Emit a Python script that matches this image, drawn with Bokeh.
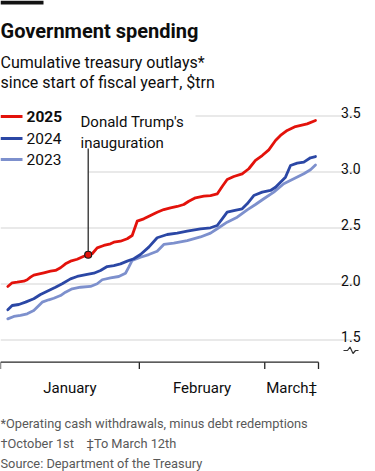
from bokeh.plotting import figure
from bokeh.models import Range1d
from bokeh.core.properties import value
from bokeh.embed import file_html
from bokeh.resources import INLINE
import numpy as np

# ---------------- data ----------------
# x = days since 1 January; y = cumulative outlays, $trn
days_2025 = [1.63, 2.61, 3.73, 5.20, 5.96, 6.70, 7.43, 9.67, 11.16, 12.28, 13.40, 14.51,
             15.63, 17.12, 18.60, 19.58, 20.47, 21.59, 23.06, 24.56, 25.30, 26.79, 28.29,
             29.40, 30.52, 31.99, 33.49, 34.98, 36.46, 37.95, 39.45, 40.92, 42.04, 43.54,
             45.39, 46.89, 48.38, 49.50, 50.61, 52.09, 53.96, 55.44, 56.93, 58.43, 59.90,
             61.40, 62.51, 64.01, 65.86, 68.47, 70.33]
vals_2025 = [1.978, 2.011, 2.016, 2.025, 2.038, 2.061, 2.079, 2.100, 2.114, 2.121, 2.145, 2.180,
             2.204, 2.221, 2.248, 2.261, 2.270, 2.323, 2.344, 2.359, 2.373, 2.382, 2.404,
             2.433, 2.561, 2.582, 2.612, 2.641, 2.665, 2.680, 2.692, 2.710, 2.739, 2.770,
             2.784, 2.790, 2.804, 2.871, 2.933, 2.960, 2.984, 3.029, 3.103, 3.147, 3.198,
             3.281, 3.326, 3.371, 3.406, 3.430, 3.460]

days_2024 = [1.63, 2.61, 4.09, 5.58, 7.43, 8.93, 10.43, 12.28, 13.78, 15.63, 17.12, 19.36,
             20.83, 22.33, 23.82, 25.30, 26.79, 28.29, 29.76, 31.26, 33.11, 34.98, 37.22,
             39.45, 41.68, 44.65, 46.89, 48.38, 49.50, 50.61, 52.09, 53.96, 55.08, 56.55,
             58.43, 60.28, 61.40, 62.51, 63.63, 64.75, 66.24, 67.72, 69.21, 70.33]
vals_2024 = [1.770, 1.808, 1.817, 1.838, 1.868, 1.906, 1.936, 1.971, 2.002, 2.046, 2.067, 2.085,
             2.096, 2.121, 2.156, 2.165, 2.180, 2.204, 2.225, 2.263, 2.329, 2.413, 2.442,
             2.454, 2.471, 2.493, 2.502, 2.522, 2.582, 2.641, 2.656, 2.671, 2.716, 2.790,
             2.820, 2.835, 2.864, 2.909, 2.954, 3.058, 3.079, 3.088, 3.127, 3.138]

days_2023 = [1.63, 2.97, 4.47, 5.96, 7.43, 9.31, 10.78, 11.90, 13.40, 14.51, 16.01, 17.86,
             20.09, 21.59, 22.71, 24.56, 26.41, 27.91, 28.64, 29.40, 31.26, 33.11, 34.98,
             36.46, 38.69, 41.68, 44.65, 46.89, 48.38, 50.61, 52.85, 55.08, 56.93, 58.79,
             61.02, 63.25, 65.48, 67.72, 69.21, 70.33]
vals_2023 = [1.689, 1.710, 1.719, 1.734, 1.763, 1.838, 1.859, 1.873, 1.897, 1.927, 1.957, 1.971,
             1.978, 2.002, 2.038, 2.055, 2.067, 2.096, 2.150, 2.210, 2.239, 2.263, 2.293,
             2.353, 2.364, 2.388, 2.420, 2.454, 2.493, 2.552, 2.596, 2.662, 2.710, 2.761,
             2.820, 2.895, 2.939, 2.984, 3.020, 3.062]

inauguration_day = 19.58

y_ticks = [1.5, 2.0, 2.5, 3.0, 3.5]
y_tick_labels = ["1.5", "2.0", "2.5", "3.0", "3.5"]
month_bounds = [0, 31, 59, 71]
month_names = ["January", "February", "March\u2021"]

series_names = ["2025", "2024", "2023"]
series_colors = ["#E3120B", "#2B47A5", "#7D90CD"]

# ---------------- layout helpers (pixel -> data) ----------------
W, H = 375, 471
DAY_PX = 318 / 71.0          # pixels per day
VAL_PX = 112.0               # pixels per $1trn
Y35_PX = 115.5               # pixel row of 3.5 gridline


def X(px):
    return px / DAY_PX


def Y(py):
    return 3.5 - (py - Y35_PX) / VAL_PX


p = figure(width=W, height=H, output_backend="svg", toolbar_location=None,
           x_axis_type=None, y_axis_type=None,
           x_range=Range1d(X(0), X(W)), y_range=Range1d(Y(H), Y(0)),
           min_border=0, outline_line_color=None,
           background_fill_color="white", border_fill_color="white")
p.xgrid.visible = False
p.ygrid.visible = False

FONT = value("Roboto")
TXT = "#0d0d0d"
GREY = "#595959"

# gridlines (left ends cleared where legend / annotation sit)
grid_start_px = {1.5: 0, 2.0: 0, 2.5: 0, 3.0: 88, 3.5: 195}
p.segment(x0=[X(grid_start_px[t]) for t in y_ticks], x1=[X(360)] * len(y_ticks),
          y0=y_ticks, y1=y_ticks, line_color="#d3d3d3", line_width=1)
p.text(x=[X(360)] * len(y_ticks), y=y_ticks, text=y_tick_labels, text_align="right",
       text_baseline="alphabetic", y_offset=-4, text_font=FONT,
       text_font_size="14px", text_color=TXT)

# axis break symbol
p.line(x=[X(343), X(347), X(349.5), X(352.5), X(355), X(358)],
       y=[Y(350), Y(350), Y(346.5), Y(353), Y(350), Y(350)],
       line_color="#333333", line_width=1.2)

# x axis
p.segment(x0=[month_bounds[0]], x1=[month_bounds[-1]], y0=[Y(361.7)], y1=[Y(361.7)],
          line_color="#262626", line_width=1.3)
p.segment(x0=month_bounds, x1=month_bounds, y0=[Y(361.7)] * 4, y1=[Y(368.5)] * 4,
          line_color="#262626", line_width=1.3)
mids = [(a + b) / 2 for a, b in zip(month_bounds[:-1], month_bounds[1:])]
p.text(x=mids, y=[Y(387.7)] * 3, text=month_names, text_align="center",
       text_baseline="alphabetic", text_font=FONT, text_font_size="15px", text_color=TXT)

# series (oldest first so 2025 sits on top)
for d, v, c in [(days_2023, vals_2023, series_colors[2]),
                (days_2024, vals_2024, series_colors[1]),
                (days_2025, vals_2025, series_colors[0])]:
    p.line(d, v, line_color=c, line_width=2.8, line_join="round", line_cap="round")

# annotation
inaug_val = float(np.interp(inauguration_day, days_2025, vals_2025))
p.segment(x0=[inauguration_day], x1=[inauguration_day], y0=[inaug_val], y1=[Y(148)],
          line_color="#1a1a1a", line_width=1.2)
p.scatter([inauguration_day], [inaug_val], size=7, fill_color="#E3120B",
          line_color="#1a1a1a", line_width=1.2)
p.text(x=[X(80)] * 2, y=[Y(121.5), Y(142.5)], text=["Donald Trump's", "inauguration"],
       text_align="left", text_baseline="alphabetic", text_font=FONT,
       text_font_size="15px", text_color=TXT)

# legend
leg_py = [116, 138, 159]
for i, (n, c) in enumerate(zip(series_names, series_colors)):
    p.segment(x0=[X(0)], x1=[X(22)], y0=[Y(leg_py[i])], y1=[Y(leg_py[i])],
              line_color=c, line_width=2.8)
    p.text(x=[X(26)], y=[Y(leg_py[i])], text=[n], text_align="left",
           text_baseline="middle", text_font=FONT, text_font_size="15.5px",
           text_color=TXT, text_font_style="bold" if i == 0 else "normal")

# header
p.quad(left=[X(0)], right=[X(43)], top=[Y(0)], bottom=[Y(4)], fill_color="#121212",
       line_color=None)
p.text(x=[X(0)], y=[Y(30)], text=["Government spending"], text_baseline="alphabetic",
       text_font=FONT, text_font_size="20px", text_font_style="bold", text_color=TXT)
p.text(x=[X(0)] * 2, y=[Y(62), Y(82)],
       text=["Cumulative treasury outlays*", "since start of fiscal year\u2020, $trn"],
       text_baseline="alphabetic", text_font=FONT, text_font_size="16px", text_color=TXT)

# footnotes
NB = "\u00a0"
p.text(x=[X(0)] * 3, y=[Y(422.5), Y(442.5), Y(463)],
       text=["*Operating cash withdrawals, minus debt redemptions",
             "\u2020October 1st" + NB * 4 + "\u2021To March 12th",
             "Source: Department of the Treasury"],
       text_baseline="alphabetic", text_font=FONT, text_font_size="12.8px",
       text_color=GREY)

open("out.html", "w").write(file_html(p, INLINE))
